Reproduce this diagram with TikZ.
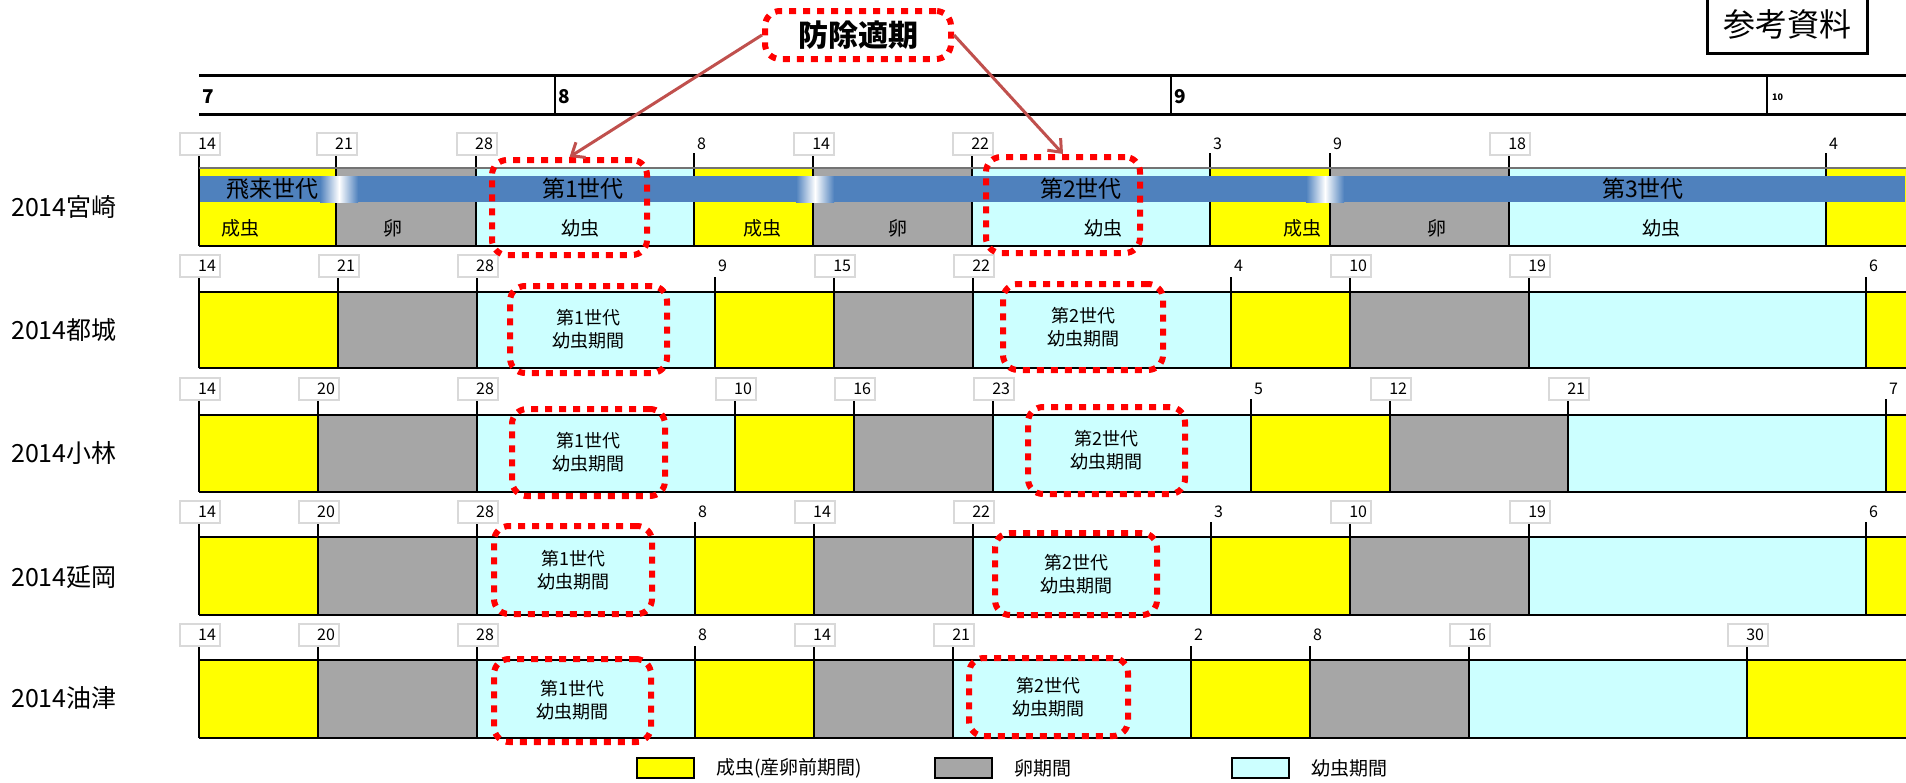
\documentclass[tikz,border=0pt]{standalone}
\usepackage{fontspec}
\setmainfont{Noto Sans CJK JP}
\usetikzlibrary{arrows.meta,positioning}

\definecolor{adultc}{HTML}{FFFF00}
\definecolor{eggc}{HTML}{A6A6A6}
\definecolor{larvac}{HTML}{CCFFFF}
\definecolor{bandc}{HTML}{4F81BD}
\definecolor{arrowc}{HTML}{C0504D}
\definecolor{boxgrayc}{HTML}{D9D9D9}

% one station row: tick top, bar top, bar bottom, day label y, cells, days, name
\newcommand{\phaserow}[7]{%
  \foreach \xa/\xb/\c in {#5} \fill[\c] (\xa,#2) rectangle (\xb,#3);
  \draw[rowline] (199,#2) -- (1906,#2) (199,#3) -- (1906,#3);
  \foreach \x/\d/\s [count=\i] in {#6} {
    \draw[sepline] (\x,#1) -- (\x,#3);
    \node[\s] (#7-\i) at (\x,#4) {\d};
  }
}

\begin{document}
\begin{tikzpicture}[x=1pt, y=-1pt,
rowname/.style={anchor=west, inner sep=0pt, font=\fontsize{25}{28}\selectfont},
daybox/.style={draw=boxgrayc, line width=1.5pt, fill=white, text width=32pt, align=right, inner sep=4pt, minimum height=22pt, xshift=1pt, font=\fontsize{16}{18}\selectfont},
dayplain/.style={anchor=west, inner sep=1pt, xshift=2pt, font=\fontsize{16}{18}\selectfont},
rowline/.style={line width=2.5pt},
sepline/.style={line width=2pt},
headline/.style={line width=3pt},
month/.style={anchor=west, inner sep=1pt, font=\bfseries\fontsize{19}{20}\selectfont},
tekibox/.style={draw=red, line width=6pt, dash pattern=on 7pt off 7pt, rounded corners=15pt, align=center, inner sep=0pt, font=\fontsize{18}{23}\selectfont},
bandtext/.style={inner sep=0pt, font=\fontsize{23}{25}\selectfont},
celltext/.style={inner sep=0pt, font=\fontsize{19}{21}\selectfont},
legbox/.style={draw, line width=2.5pt, minimum width=57pt, minimum height=20pt, inner sep=0pt},
legtext/.style={inner sep=0pt, right=21pt of #1, font=\fontsize{19}{21}\selectfont},
tekiarrow/.style={draw=arrowc, line width=3pt, -{Straight Barb[length=11pt,width=18pt]}}
]
\useasboundingbox (0,0) rectangle (1906,782);

%Header
\draw[headline] (199,75) -- (1906,75) (199,114) -- (1906,114);
\foreach \x in {555,1171,1767} \draw[line width=1.5pt] (\x,75) -- (\x,114);
\node[month] (m7) at (201,97) {7};
\node[month] (m8) at (557,97) {8};
\node[month] (m9) at (1173,97) {9};
\node[month, font=\bfseries\fontsize{9}{10}\selectfont] (m10) at (1771,97) {10};

\node[inner sep=0pt, font=\fontsize{32}{34}\selectfont] (sanko) at (1787,24) {参考資料};
\draw[line width=3pt] (1707,0) |- (1867,53) -- (1867,0);

%Rows
\phaserow{153}{168}{246}{144}
  {199/336/adultc, 336/476/eggc, 476/694/larvac, 694/813/adultc, 813/972/eggc, 972/1210/larvac, 1210/1330/adultc, 1330/1509/eggc, 1509/1826/larvac, 1826/1906/adultc}
  {199/14/daybox, 336/21/daybox, 476/28/daybox, 694/8/dayplain, 813/14/daybox, 972/22/daybox, 1210/3/dayplain, 1330/9/dayplain, 1509/18/daybox, 1826/4/dayplain}{r1}
\phaserow{277}{292}{368}{266}
  {199/338/adultc, 338/477/eggc, 477/715/larvac, 715/834/adultc, 834/973/eggc, 973/1231/larvac, 1231/1350/adultc, 1350/1529/eggc, 1529/1866/larvac, 1866/1906/adultc}
  {199/14/daybox, 338/21/daybox, 477/28/daybox, 715/9/dayplain, 834/15/daybox, 973/22/daybox, 1231/4/dayplain, 1350/10/daybox, 1529/19/daybox, 1866/6/dayplain}{r2}
\phaserow{399}{415}{492}{389}
  {199/318/adultc, 318/477/eggc, 477/735/larvac, 735/854/adultc, 854/993/eggc, 993/1251/larvac, 1251/1390/adultc, 1390/1568/eggc, 1568/1886/larvac, 1886/1906/adultc}
  {199/14/daybox, 318/20/daybox, 477/28/daybox, 735/10/daybox, 854/16/daybox, 993/23/daybox, 1251/5/dayplain, 1390/12/daybox, 1568/21/daybox, 1886/7/dayplain}{r3}
\phaserow{522}{537}{615}{512}
  {199/318/adultc, 318/477/eggc, 477/695/larvac, 695/814/adultc, 814/973/eggc, 973/1211/larvac, 1211/1350/adultc, 1350/1529/eggc, 1529/1866/larvac, 1866/1906/adultc}
  {199/14/daybox, 318/20/daybox, 477/28/daybox, 695/8/dayplain, 814/14/daybox, 973/22/daybox, 1211/3/dayplain, 1350/10/daybox, 1529/19/daybox, 1866/6/dayplain}{r4}
\phaserow{646}{660}{738}{635}
  {199/318/adultc, 318/477/eggc, 477/695/larvac, 695/814/adultc, 814/953/eggc, 953/1191/larvac, 1191/1310/adultc, 1310/1469/eggc, 1469/1747/larvac, 1747/1906/adultc}
  {199/14/daybox, 318/20/daybox, 477/28/daybox, 695/8/dayplain, 814/14/daybox, 953/21/daybox, 1191/2/dayplain, 1310/8/dayplain, 1469/16/daybox, 1747/30/daybox}{r5}

%Row names
\node[rowname] (n1) at (11,207) {2014宮崎};
\node[rowname] (n2) at (11,330) {2014都城};
\node[rowname] (n3) at (11,453) {2014小林};
\node[rowname] (n4) at (11,577) {2014延岡};
\node[rowname] (n5) at (11,698) {2014油津};

%Generation band
\draw[line width=1.5pt, black!55] (199,168) -- (1906,168);
\fill[bandc] (200,176) rectangle (1905,202);
\foreach \x in {339,815,1325} {
  \shade[left color=bandc, right color=white] (\x-19,176) rectangle (\x,202);
  \shade[left color=white, right color=bandc] (\x,176) rectangle (\x+19,202);
}
\node[bandtext] (b0) at (272,189) {飛来世代};
\node[bandtext] (b1) at (583,189) {第1世代};
\node[bandtext] (b2) at (1081,189) {第2世代};
\node[bandtext] (b3) at (1643,189) {第3世代};
\foreach \x/\t [count=\i] in {240/成虫, 393/卵, 580/幼虫, 762/成虫, 898/卵, 1103/幼虫, 1302/成虫, 1437/卵, 1661/幼虫}
  \node[celltext] (c\i) at (\x,228) {\t};

%Control periods
\node[tekibox, minimum width=155pt, minimum height=95pt] (g1) at (569.5,207.5) {};
\node[tekibox, minimum width=154pt, minimum height=96pt] (g2) at (1063,205) {};
\node[tekibox, minimum width=157pt, minimum height=87pt] (r2g1) at (588.5,329.5) {第1世代\\幼虫期間};
\node[tekibox, minimum width=160pt, minimum height=86pt] (r2g2) at (1083,327) {第2世代\\幼虫期間};
\node[tekibox, minimum width=153pt, minimum height=87pt] (r3g1) at (588.5,452.5) {第1世代\\幼虫期間};
\node[tekibox, minimum width=157pt, minimum height=87pt] (r3g2) at (1106.5,450.5) {第2世代\\幼虫期間};
\node[tekibox, minimum width=158pt, minimum height=88pt] (r4g1) at (573,570) {第1世代\\幼虫期間};
\node[tekibox, minimum width=162pt, minimum height=82pt] (r4g2) at (1076,574) {第2世代\\幼虫期間};
\node[tekibox, minimum width=157pt, minimum height=83pt] (r5g1) at (572.5,700.5) {第1世代\\幼虫期間};
\node[tekibox, minimum width=159pt, minimum height=78pt] (r5g2) at (1048.5,697) {第2世代\\幼虫期間};

\node[tekibox, minimum width=186pt, minimum height=48pt, font=\bfseries\fontsize{30}{32}\selectfont] (tekki) at (858,35) {防除適期};
\draw[tekiarrow] (tekki.west) -- (g1.north);
\draw[tekiarrow] (tekki.east) -- (g2.north);

%Legend
\node[legbox, fill=adultc] (lg1) at (665.5,768) {};
\node[legtext=lg1] (lt1) {成虫(産卵前期間)};
\node[legbox, fill=eggc] (lg2) at (963.5,768) {};
\node[legtext=lg2] (lt2) {卵期間};
\node[legbox, fill=larvac] (lg3) at (1260.5,768) {};
\node[legtext=lg3] (lt3) {幼虫期間};
\end{tikzpicture}
\end{document}
